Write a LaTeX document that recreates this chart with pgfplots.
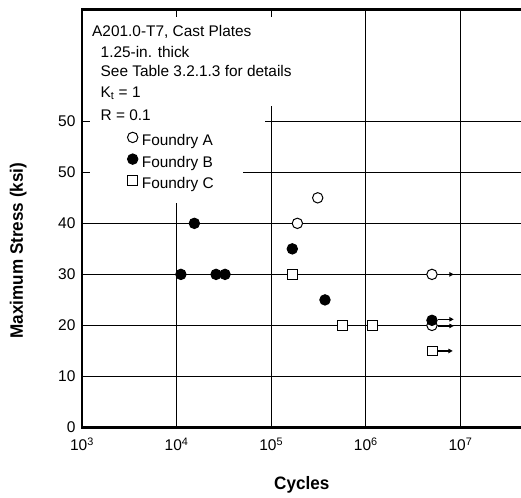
\documentclass[border=0pt]{standalone}
\usepackage{fontspec}
\setmainfont{Liberation Sans}
\newfontfamily\labelfont{Liberation Sans}[FakeStretch=0.95]
\usepackage{pgfplots}
\pgfplotsset{compat=1.18}
\usetikzlibrary{arrows.meta}

\newcommand\txt{\fontsize{15.4bp}{21bp}\selectfont}

% open circle, filled circle, open square
\pgfplotsset{
  fa/.style={only marks, mark=*, mark size=5.2bp,
    mark options={fill=white, draw=black, line width=1bp}},
  fb/.style={only marks, mark=*, mark size=5.2bp,
    mark options={fill=black, draw=black, line width=1bp}},
  fc/.style={only marks, mark=square*, mark size=4.8bp,
    mark options={fill=white, draw=black, line width=1bp}},
  runout/.style={forget plot, black, line width=1.2bp,
    -{Triangle[length=4.5bp, width=4.5bp]}},
}

\begin{document}
\begin{tikzpicture}
\begin{axis}[
  name=ax, at={(0,0)}, anchor=south west,
  scale only axis, width=444bp, height=418bp,
  xmode=log, xmin=1e3, xmax=4.93e7,
  ymin=0, ymax=81.9,
  xtick={1e3,1e4,1e5,1e6,1e7},
  xticklabels={10\textsuperscript{3},10\textsuperscript{4},10\textsuperscript{5},10\textsuperscript{6},10\textsuperscript{7}},
  ytick={0,10,20,30,40,50,60},
  yticklabels={0,10,20,30,40,50,50},
  xminorticks=false, yminorticks=false,
  grid=major,
  major grid style={black, line width=0.8bp},
  axis line style={line width=2.2bp},
  major tick length=7bp,
  every tick/.style={black, line width=0.8bp},
  tick label style={font=\fontsize{15.5bp}{16bp}\selectfont},
  xticklabel style={yshift=-7bp},
  yticklabel style={xshift=-3bp},
  xlabel={Cycles},
  ylabel={Maximum Stress (ksi)},
  label style={font=\labelfont\bfseries\fontsize{18bp}{19bp}\selectfont},
  xlabel style={at={(axis description cs:0.495,-0.1495)}, anchor=base},
  ylabel style={at={(axis description cs:-0.1435,0.4234)}, anchor=center},
  legend style={at={(0.102,0.7069)}, anchor=north west, draw=none, fill=none,
    inner sep=0pt, row sep=5bp, column sep=4bp, font=\txt,
    nodes={inner sep=0pt, text height=11bp, text depth=3bp, anchor=west}},
  legend cell align=left,
  legend image code/.code={\draw[mark repeat=2, mark phase=2, #1]
    plot coordinates {(0bp,4.5bp) (5bp,4.5bp) (10bp,4.5bp)};},
]
% keep the grid clear behind the specimen notes
\fill[white] (rel axis cs:0.018,0.982) rectangle (rel axis cs:0.491,0.769);
\fill[white] (rel axis cs:0.018,0.769) rectangle (rel axis cs:0.412,0.664);
\fill[white] (rel axis cs:0.018,0.664) rectangle (rel axis cs:0.3626,0.537);

% run-outs (did not fail)
\addplot[runout] coordinates {(5.8e6,30) (8.5e6,30)};
\addplot[runout] coordinates {(5.8e6,21.2) (8.5e6,21.2)};
\addplot[runout] coordinates {(5.8e6,19.9) (8.5e6,19.9)};
\addplot[runout] coordinates {(5.7e6,15) (8.3e6,15)};

\addplot[fa] coordinates {(1.89e5,40) (3.1e5,45) (5e6,30) (5e6,20)};
\addlegendentry{Foundry A}
\addplot[fb] coordinates {(1.11e4,30) (1.54e4,40) (2.61e4,30) (3.25e4,30)
  (1.67e5,35) (3.7e5,25) (5e6,21)};
\addlegendentry{Foundry B}
\addplot[fc] coordinates {(1.67e5,30) (5.7e5,20) (1.17e6,20) (5.05e6,15)};
\addlegendentry{Foundry C}
\end{axis}

\begin{scope}[shift={(ax.south west)}]
\node[anchor=base west, inner sep=0pt] at (10bp,390.8bp) {\txt A201.0-T7, Cast Plates};
\node[anchor=base west, inner sep=0pt] at (18.5bp,370.2bp) {\txt 1.25-in. thick};
\node[anchor=base west, inner sep=0pt] at (18.5bp,350.8bp) {\txt See Table 3.2.1.3 for details};
\node[anchor=base west, inner sep=0pt] at (18.5bp,330.2bp) {\txt K\textsubscript{t} = 1};
\node[anchor=base west, inner sep=0pt] at (18.5bp,306.8bp) {\txt R = 0.1};
\end{scope}

\pgfresetboundingbox
\useasboundingbox ([shift={(-82bp,-70.5bp)}]ax.south west)
  rectangle ([shift={(439bp,427.5bp)}]ax.south west);
\end{tikzpicture}
\end{document}
